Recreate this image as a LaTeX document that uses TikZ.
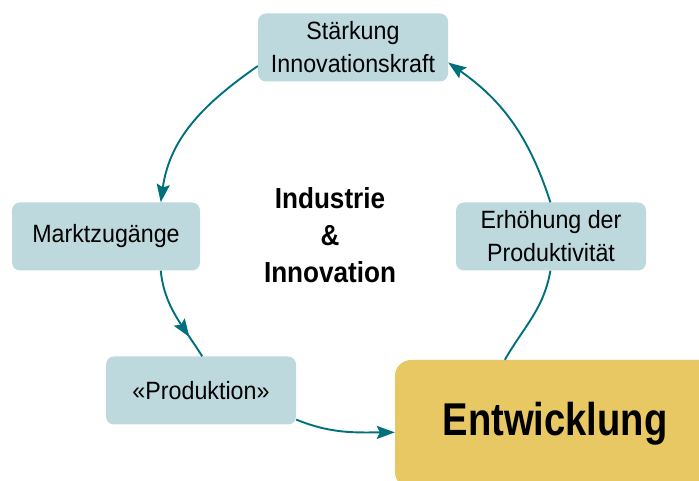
\documentclass[tikz,border=0pt]{standalone}
\usepackage{fontspec}
\setmainfont{Liberation Sans}
\newfontfamily\boxfont[FakeStretch=0.93]{Liberation Sans}
\newfontfamily\midfont[FakeStretch=0.9]{Liberation Sans}
\newfontfamily\narrowfont[FakeStretch=0.83]{Liberation Sans}
\usetikzlibrary{arrows.meta,decorations.markings}
\definecolor{boxblue}{HTML}{BED9DE}
\definecolor{boxgold}{HTML}{E8C862}
\definecolor{arcteal}{HTML}{00717B}

\begin{document}
\begin{tikzpicture}[x=1pt, y=1pt,
    box style/.style={fill=boxblue, rounded corners=8pt, minimum width=190pt,
        minimum height=68pt, inner sep=0pt, align=center,
        font=\boxfont\fontsize{25}{33}\selectfont},
    goal style/.style={fill=boxgold, rounded corners=16pt, minimum width=320pt,
        minimum height=128pt, inner sep=0pt,
        font=\narrowfont\bfseries\fontsize{46}{50}\selectfont},
    arc style/.style={draw=arcteal, line width=1.9pt},
    arc tip/.style={-{Stealth[length=18pt,width=13pt,inset=3pt]}},
    mid tip/.style={decoration={markings,
        mark=at position 0.76 with {\arrow{Stealth[length=18pt,width=13pt,inset=3pt]}}},
        postaction=decorate},]
    \useasboundingbox (0,0) rectangle (699,481);
    %\draw (0,0) rectangle (699,481);

    \node[style=box style] (st) at (353,433.5) {Stärkung\\Innovationskraft};
    \node[style=box style, minimum width=188pt] (mz) at (106,244.5) {Marktzugänge};
    \node[style=box style] (er) at (551,244.5) {Erhöhung der\\Produktivität};
    \node[style=box style] (pr) at (201,90.5) {«Produktion»};
    \node[style=goal style] (en) at (555,57) {Entwicklung};

    \node[align=center, font=\midfont\bfseries\fontsize{29}{37}\selectfont] (ii) at (330,246)
        {Industrie\\\&\\Innovation};

    \draw[style=arc style, style=arc tip] (st.191) to[out=215, in=82] (mz.32);
    \draw[style=arc style, style=mid tip] (mz.-32) to[out=-84, in=122] (pr.88);
    \draw[style=arc style, style=arc tip] (pr.-17) to[out=-22, in=180] (en.183);
    \draw[style=arc style] (en.128) to[out=60, in=-100] (er.-91);
    \draw[style=arc style, style=arc tip] (er.91) to[out=108, in=-35] (st.-9);

\end{tikzpicture}
\end{document}
